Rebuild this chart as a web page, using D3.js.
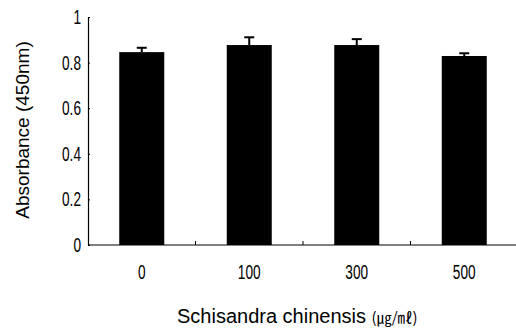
<!DOCTYPE html>
<html>
<head>
<meta charset="utf-8">
<script src="https://cdn.jsdelivr.net/npm/d3@7"></script>
<style>
  body { margin: 0; background: #fff; }
  svg { display: block; }
</style>
</head>
<body>
<svg></svg>
<script>
document.addEventListener('DOMContentLoaded', function () {
    const width = 516;
    const height = 329;

    // data
    const doses = ['0', '100', '300', '500'];
    const absorbance = [0.846, 0.877, 0.877, 0.829];
    const errors = [0.019, 0.034, 0.026, 0.012];
    const yTicks = [0, 0.2, 0.4, 0.6, 0.8, 1];

    const margin = { left: 88, right: -2, top: 17, bottom: 84 };

    const svg = d3.select('svg')
        .attr('width', width)
        .attr('height', height);

    const x = d3.scaleBand()
        .domain(doses)
        .range([margin.left, width - margin.right])
        .paddingInner(0)
        .paddingOuter(0);

    const y = d3.scaleLinear()
        .domain([0, 1])
        .range([height - margin.bottom, margin.top]);

    const barW = 45;
    const tickFont = '"Liberation Sans", Arial, sans-serif';
    const squeeze = 0.7;
    const fmt = d => d === 0 || d === 1 ? d3.format('d')(d) : d3.format('.1f')(d);

    // y axis, ticks pointing inward
    const yAxis = svg.append('g')
        .attr('transform', `translate(${margin.left},0)`)
        .call(d3.axisRight(y).tickValues(yTicks).tickSize(2).tickSizeOuter(0).tickFormat(''));
    yAxis.select('.domain').attr('stroke', '#000').attr('stroke-width', 1.2);
    yAxis.selectAll('.tick line').attr('stroke', '#000');

    svg.append('g')
        .selectAll('text')
        .data(yTicks)
        .enter().append('text')
        .attr('transform', d => `translate(81,${y(d) + 7}) scale(${squeeze},1)`)
        .attr('text-anchor', 'end')
        .attr('font-family', tickFont)
        .attr('font-size', 19.5)
        .text(fmt);

    // bars
    svg.append('g')
        .selectAll('rect')
        .data(doses)
        .enter().append('rect')
        .attr('x', d => x(d) + x.bandwidth() / 2 - barW / 2)
        .attr('y', (d, i) => y(absorbance[i]))
        .attr('width', barW)
        .attr('height', (d, i) => y(0) - y(absorbance[i]))
        .attr('fill', '#000');

    // error bars (upper only)
    const err = svg.append('g').attr('stroke', '#000').attr('stroke-width', 2);
    doses.forEach((d, i) => {
        const cx = x(d) + x.bandwidth() / 2;
        err.append('line')
            .attr('x1', cx).attr('x2', cx)
            .attr('y1', y(absorbance[i])).attr('y2', y(absorbance[i] + errors[i]));
        err.append('line')
            .attr('x1', cx - 5).attr('x2', cx + 5)
            .attr('y1', y(absorbance[i] + errors[i])).attr('y2', y(absorbance[i] + errors[i]));
    });

    // x axis
    const base = y(0);
    svg.append('line')
        .attr('x1', margin.left).attr('x2', width)
        .attr('y1', base).attr('y2', base)
        .attr('stroke', '#000').attr('stroke-width', 1.2);

    svg.append('g')
        .selectAll('line')
        .data(doses.slice(1))
        .enter().append('line')
        .attr('x1', d => x(d)).attr('x2', d => x(d))
        .attr('y1', base).attr('y2', base - 4)
        .attr('stroke', '#000');

    svg.append('g')
        .selectAll('text')
        .data(doses)
        .enter().append('text')
        .attr('transform', d => `translate(${x(d) + x.bandwidth() / 2},${base + 34}) scale(${squeeze},1)`)
        .attr('text-anchor', 'middle')
        .attr('font-family', tickFont)
        .attr('font-size', 19.5)
        .text(d => d);

    // axis titles
    svg.append('text')
        .attr('transform', `translate(29,${(margin.top + base) / 2 - 1}) rotate(-90)`)
        .attr('text-anchor', 'middle')
        .attr('font-family', '"Liberation Sans", Arial, sans-serif')
        .attr('font-size', 19)
        .text('Absorbance (450nm)');

    const xt = svg.append('text')
        .attr('x', 177)
        .attr('y', 323)
        .attr('font-family', '"Liberation Sans", Arial, sans-serif')
        .attr('font-size', 20);
    xt.append('tspan').text('Schisandra chinensis ');
    xt.append('tspan')
        .attr('font-family', '"Noto Sans CJK KR", sans-serif')
        .attr('font-size', 15)
        .text('(㎍/㎖)');
});
</script>
</body>
</html>
